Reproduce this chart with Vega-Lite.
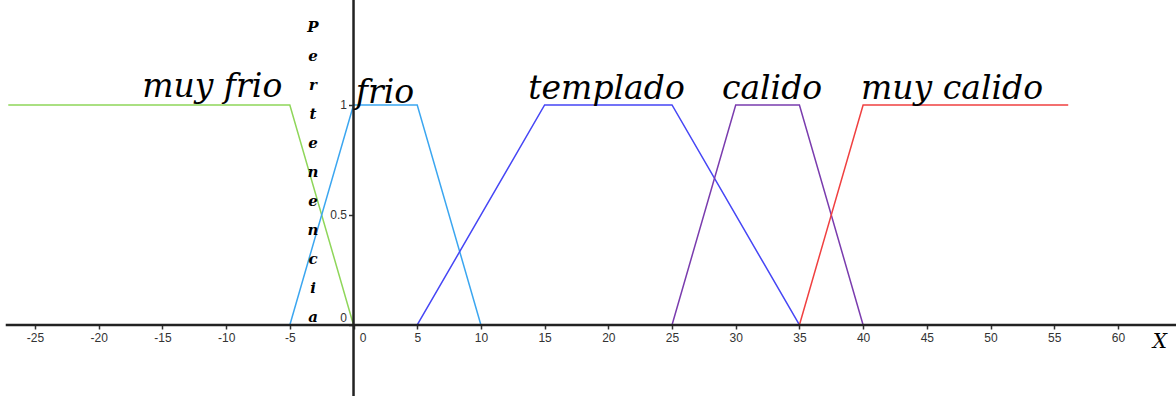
{
  "$schema": "https://vega.github.io/schema/vega-lite/v6.json",
  "width": 1176,
  "height": 396,
  "autosize": {"type": "none"},
  "padding": 0,
  "background": "white",
  "config": {"view": {"stroke": null}},
  "datasets": {
    "fn": [
      {"series": "muy frio", "x": -27.1, "y": 1, "o": 1},
      {"series": "muy frio", "x": -5, "y": 1, "o": 2},
      {"series": "muy frio", "x": 0, "y": 0, "o": 3},
      {"series": "frio", "x": -5, "y": 0, "o": 1},
      {"series": "frio", "x": 0, "y": 1, "o": 2},
      {"series": "frio", "x": 5, "y": 1, "o": 3},
      {"series": "frio", "x": 10, "y": 0, "o": 4},
      {"series": "templado", "x": 5, "y": 0, "o": 1},
      {"series": "templado", "x": 15, "y": 1, "o": 2},
      {"series": "templado", "x": 25, "y": 1, "o": 3},
      {"series": "templado", "x": 35, "y": 0, "o": 4},
      {"series": "calido", "x": 25, "y": 0, "o": 1},
      {"series": "calido", "x": 30, "y": 1, "o": 2},
      {"series": "calido", "x": 35, "y": 1, "o": 3},
      {"series": "calido", "x": 40, "y": 0, "o": 4},
      {"series": "muy calido", "x": 35, "y": 0, "o": 1},
      {"series": "muy calido", "x": 40, "y": 1, "o": 2},
      {"series": "muy calido", "x": 56.1, "y": 1, "o": 3}
    ],
    "axes": [
      {"x": -27.3, "x2": 64.6, "y": 0, "y2": 0},
      {"x": 0, "x2": 0, "y": -0.33, "y2": 1.48}
    ],
    "labels": [
      {"text": "muy frio", "x": -11.09, "y": 1.036},
      {"text": "frio", "x": 2.47, "y": 1.009},
      {"text": "templado", "x": 19.86, "y": 1.027},
      {"text": "calido", "x": 32.85, "y": 1.027},
      {"text": "muy calido", "x": 46.98, "y": 1.027}
    ],
    "ylab": [
      {"text": ["P", "e", "r", "t", "e", "n", "e", "n", "c", "i", "a"], "x": -3.18, "y": 1.385}
    ],
    "xlab": [
      {"text": "X", "x": 63.3, "y": -0.077}
    ]
  },
  "layer": [
    {
      "data": {"name": "fn"},
      "mark": {"type": "line", "strokeWidth": 1.5, "clip": true},
      "encoding": {
        "x": {
          "field": "x", "type": "quantitative",
          "scale": {"domain": [-27.75, 64.56], "nice": false, "zero": false},
          "axis": {
            "values": [-25, -20, -15, -10, -5, 0, 5, 10, 15, 20, 25, 30, 35, 40, 45, 50, 55, 60],
            "labelExpr": "'' + datum.value",
            "offset": -71, "domain": false, "grid": false, "title": null,
            "tickSize": 4, "tickWidth": 1.5, "tickColor": "#333",
            "labelFont": "Liberation Sans", "labelFontSize": 12, "labelColor": "#333",
            "labelPadding": 3,
            "labelOffset": {"condition": {"test": "datum.value === 0", "value": 9}, "value": 0}
          }
        },
        "y": {
          "field": "y", "type": "quantitative",
          "scale": {"domain": [-0.323, 1.477], "nice": false, "zero": false},
          "axis": {
            "values": [0, 0.5, 1],
            "labelExpr": "'' + datum.value",
            "offset": -353.5, "domain": false, "grid": false, "title": null,
            "tickSize": 5, "tickWidth": 1.5, "tickColor": "#333",
            "labelFont": "Liberation Sans", "labelFontSize": 12, "labelColor": "#333",
            "labelPadding": 2,
            "labelOffset": {"condition": {"test": "datum.value === 0", "value": -7}, "value": 0}
          }
        },
        "color": {
          "field": "series", "type": "nominal",
          "scale": {
            "domain": ["muy frio", "frio", "templado", "calido", "muy calido"],
            "range": ["#8fd65a", "#3ba6f0", "#4646f5", "#7a3cae", "#f04040"]
          },
          "legend": null
        },
        "detail": {"field": "series"},
        "order": {"field": "o", "type": "quantitative"}
      }
    },
    {
      "data": {"name": "axes"},
      "mark": {"type": "rule", "color": "#222", "strokeWidth": 2.5},
      "encoding": {
        "x": {"field": "x", "type": "quantitative"},
        "x2": {"field": "x2"},
        "y": {"field": "y", "type": "quantitative"},
        "y2": {"field": "y2"}
      }
    },
    {
      "data": {"name": "labels"},
      "mark": {"type": "text", "font": "DejaVu Serif", "fontStyle": "italic", "fontSize": 33, "align": "center", "baseline": "alphabetic", "color": "#000"},
      "encoding": {
        "x": {"field": "x", "type": "quantitative"},
        "y": {"field": "y", "type": "quantitative"},
        "text": {"field": "text"}
      }
    },
    {
      "data": {"name": "ylab"},
      "mark": {"type": "text", "font": "DejaVu Serif", "fontStyle": "italic", "fontWeight": "bold", "fontSize": 15, "align": "center", "baseline": "top", "lineHeight": 29, "color": "#000"},
      "encoding": {
        "x": {"field": "x", "type": "quantitative"},
        "y": {"field": "y", "type": "quantitative"},
        "text": {"field": "text"}
      }
    },
    {
      "data": {"name": "xlab"},
      "mark": {"type": "text", "font": "DejaVu Serif", "fontStyle": "italic", "fontSize": 20, "align": "center", "baseline": "middle", "color": "#000"},
      "encoding": {
        "x": {"field": "x", "type": "quantitative"},
        "y": {"field": "y", "type": "quantitative"},
        "text": {"field": "text"}
      }
    }
  ]
}
